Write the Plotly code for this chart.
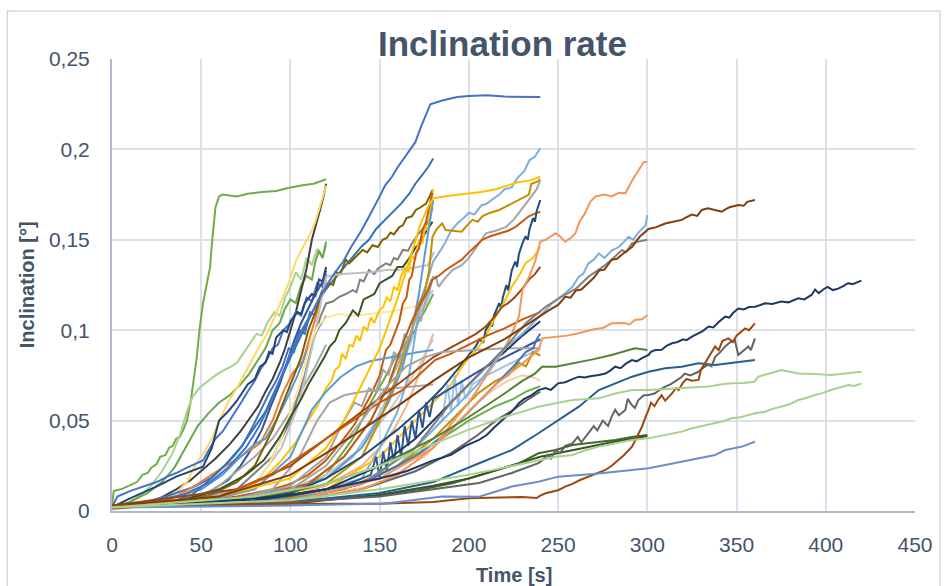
import plotly.graph_objects as go

# ---- measured inclination curves: each is a list of [time_s, inclination_deg] ----
# runs ending at 120 s
r120_a = [[0,.003],[1,.011],[5,.012],[10,.014],[14,.016],[17,.02],[20,.021],[22,.024],[25,.026],[27,.03],[30,.031],[32,.035],[34,.036],[36,.04],[38,.041],[40,.045],[42,.05],[44,.06],[46,.075],[47.5,.085],[49,.1],[51,.115],[53,.125],[55,.135],[56,.148],[57,.16],[58,.168],[60,.174],[62,.175],[66,.1745],[70,.174],[76,.1755],[84,.1765],[92,.177],[98,.1785],[106,.18],[113,.181],[120,.1835]]
r120_b = [[0,.003],[8,.004],[15,.008],[22,.014],[28,.022],[34,.032],[38,.042],[42,.055],[45,.063],[49,.068],[54,.072],[58,.075],[63,.078],[67,.08],[70,.082],[74,.088],[78,.094],[81,.098],[84,.097],[87,.104],[91,.11],[94,.108],[97,.118],[100,.124],[103,.132],[106,.128],[109,.14],[112,.136],[115,.145],[118,.14],[120,.147]]
r120_c = [[0,.002],[10,.005],[20,.01],[28,.016],[35,.024],[42,.036],[48,.047],[54,.054],[60,.06],[66,.064],[72,.07],[77,.076],[82,.084],[86,.09],[90,.1],[94,.104],[97,.112],[100,.117],[103,.115],[106,.125],[109,.13],[112,.128],[114,.138],[116,.144],[118,.14],[120,.149]]
r120_d = [[0,.002],[15,.004],[25,.006],[36,.012],[44,.017],[51,.023],[58,.029],[66,.037],[72,.044],[77,.051],[82,.058],[86,.066],[90,.073],[94,.082],[97,.09],[100,.1],[103,.11],[106,.122],[109,.134],[112,.15],[115,.16],[117,.168],[119,.176],[120,.181]]
r120_e = [[0,.002],[20,.004],[35,.009],[42,.016],[47,.026],[52,.033],[56,.04],[60,.05],[65,.06],[70,.068],[76,.079],[82,.09],[88,.1],[94,.114],[99,.126],[103,.138],[107,.146],[111,.153],[114,.16],[117,.17],[120,.18]]
r120_f = [[0,.002],[3,.008],[10,.011],[17,.0135],[25,.016],[31,.019],[36,.021],[42,.024],[47,.026],[51,.028],[55,.035],[58,.04],[62,.044],[66,.05],[70,.056],[73,.061],[76,.066],[80,.072],[83,.078],[87,.084],[90,.09],[93,.092],[96,.1],[100,.104],[103,.11],[106,.108],[109,.118],[112,.116],[115,.126],[118,.124],[120,.133]]
r120_g = [[0,.002],[8,.006],[17,.01],[26,.014],[36,.019],[44,.022],[51,.0245],[56,.035],[60,.05],[65,.055],[70,.061],[76,.07],[80,.073],[83,.08],[86,.082],[88,.088],[90,.087],[92,.096],[96,.1],[98,.099],[100,.105],[104,.11],[106,.109],[108,.115],[112,.12],[114,.119],[116,.128],[118,.127],[120,.135]]
r120_h = [[0,.002],[15,.004],[30,.008],[45,.013],[55,.018],[62,.024],[68,.03],[73,.036],[79,.047],[84,.057],[88,.065],[92,.072],[95.6,.08],[99,.09],[102,.088],[105,.1],[108,.098],[111,.11],[114,.108],[117,.12],[120,.126]]
r120_i = [[0,.002],[20,.003],[40,.006],[55,.011],[65,.017],[72,.025],[78,.034],[84,.045],[89,.058],[94,.07],[98,.082],[102,.094],[106,.104],[110,.112],[114,.12],[117,.125],[120,.131]]
r120_j = [[0,.001],[20,.003],[32,.006],[45,.013],[60,.0227],[72,.03],[83,.0375],[90,.05],[95.6,.065],[101,.076],[107,.083],[111,.097],[115,.11],[118,.12],[120,.128]]
r120_k = [[0,.002],[30,.006],[50,.012],[62,.02],[72,.03],[80,.037],[86,.04],[92,.05],[98,.062],[104,.075],[110,.09],[115,.1],[120,.108]]
r120_l = [[0,.002],[30,.004],[50,.008],[60,.014],[70,.022],[80,.03],[90,.04],[100,.055],[108,.07],[114,.08],[120,.092]]

# runs ending at 180 s
r180_a = [[0,.002],[30,.004],[45,.009],[55.5,.018],[64,.026],[72,.035],[79,.045],[86,.055],[91,.066],[96,.076],[101,.087],[106,.097],[111,.107],[116,.1175],[121,.124],[126,.13],[131,.136],[136,.142],[140,.1465],[144,.15],[148,.156],[153,.161],[158,.166],[162,.17],[166.6,.1755],[170,.181],[174,.186],[177,.19],[180,.195]]
r180_b = [[0,.002],[30,.004],[55,.009],[70,.016],[80,.025],[90,.045],[100,.07],[106,.085],[110,.1],[114,.11],[118,.122],[122,.126],[124,.125],[126,.132],[128,.131],[131,.139],[133,.137],[136,.14],[138,.142],[140.5,.1444],[143,.143],[146,.147],[149,.146],[151.6,.15],[154,.151],[156,.154],[158,.153],[161,.157],[163,.158],[165,.162],[168,.163],[170.3,.1665],[173,.168],[176,.17],[178,.174],[179.6,.1775]]
r180_c = [[0,.002],[40,.005],[70,.012],[90,.03],[100,.05],[108,.075],[113,.095],[117,.108],[120,.1148],[124,.116],[127.4,.1185],[131,.12],[135,.1222],[137,.121],[139,.128],[141,.127],[144,.1333],[147,.131],[149,.134],[153.5,.137],[156,.136],[158,.14],[160,.139],[163,.1444],[166,.144],[168,.148],[172,.1536],[175,.157],[177.7,.161],[179.6,.168]]
r180_d = [[0,.002],[50,.006],[80,.015],[95,.035],[105,.06],[112,.09],[116,.11],[119,.125],[120,.1296],[127,.131],[135,.1314],[145,.132],[153.5,.1333],[162,.1335],[172,.1351],[177,.136],[180.5,.1434]]
r180_e = [[0,.002],[40,.004],[60,.006],[72,.01],[80,.015],[88,.026],[95,.04],[100,.055],[105,.07],[109,.085],[112,.095],[116,.103],[120,.107],[127,.109],[135,.108],[145,.109],[153.5,.11],[160,.111],[168.4,.113],[174,.114],[179.6,.1148]]
r180_f = [[0,.002],[30,.003],[60,.012],[75,.02],[85,.028],[94,.041],[100,.052],[106,.062],[110,.07],[115,.078],[119,.085],[122,.091],[125,.094],[127.4,.1],[131,.104],[135,.111],[138,.108],[141,.117],[144,.1185],[147,.12],[150,.126],[153.5,.1278],[157,.13],[160,.135],[163,.135],[166,.139],[170.3,.146],[173,.148],[175,.153],[177.7,.157],[179.6,.16]]
r180_g = [[0,.002],[40,.004],[70,.01],[85,.018],[95,.028],[103,.038],[110,.05],[115,.058],[120,.068],[123,.072],[125,.078],[127.4,.08],[129,.087],[131,.084],[133,.092],[135,.091],[137,.097],[139,.094],[141,.102],[143,.1],[145,.107],[147,.104],[149.8,.111],[152,.113],[154,.118],[156,.116],[158,.124],[160,.122],[162,.13],[164.7,.135],[166,.132],[168,.141],[170,.139],[172,.15],[174,.148],[175.5,.158],[177,.155],[178,.165],[179,.172],[180,.178]]
r180_h = [[0,.002],[40,.004],[70,.008],[90,.012],[100,.015],[110,.02],[120,.028],[130,.04],[136,.048],[140,.055],[145,.064],[150,.075],[153.5,.089],[156,.092],[159,.1],[161,.105],[163,.1148],[165,.118],[166.6,.1278],[168,.13],[170.3,.1425],[172,.145],[174,.1554],[176,.16],[177.7,.168],[179.5,.176]]
r180_i = [[0,.002],[60,.005],[100,.01],[120,.018],[135,.03],[145,.045],[152,.058],[158,.07],[163,.082],[167,.092],[170,.1],[173,.11],[176,.115],[178,.12],[180,.122]]
r180_j = [[0,.002],[60,.004],[100,.01],[120,.02],[135,.04],[145,.06],[152,.072],[159,.0853],[163,.09],[166.6,.0964],[170,.1],[172,.1056],[175,.11],[177.7,.115],[180,.12]]
r180_k = [[0,.002],[60,.004],[100,.008],[120,.014],[140,.025],[150,.035],[158,.045],[165,.058],[170,.07],[174,.082],[177,.09],[180,.098]]
r180_l = [[0,.002],[70,.006],[100,.014],[120,.03],[130,.05],[136,.06],[140,.058],[144,.068],[148,.066],[152,.078],[155,.075],[158,.088],[161,.084],[164,.098],[167,.094],[170,.108],[173,.105],[176,.118],[178,.122],[180,.13]]
r180_m = [[0,.002],[80,.006],[120,.02],[140,.035],[155,.055],[165,.07],[172,.08],[176,.088],[180,.095]]
r180_n = [[0,.002],[80,.006],[120,.018],[140,.035],[155,.06],[163,.08],[168,.1],[172,.12],[175,.14],[177.5,.155],[179,.165],[180,.172]]
r180_o = [[0,.002],[50,.005],[80,.012],[100,.03],[112,.056],[120,.066],[128,.074],[136.8,.08],[145,.083],[155,.085],[165,.087],[172,.088],[180,.089]]
r180_p = [[0,.002],[60,.004],[90,.012],[105,.03],[115,.05],[122,.06],[130,.064],[140,.066],[150,.067],[160,.068],[170,.069],[180,.07]]

# runs ending at 240 s
r240_a = [[0,.003],[20,.005],[40,.009],[55,.016],[65,.024],[75,.035],[82,.046],[88,.058],[93,.07],[98,.082],[103,.094],[108,.103],[112.8,.111],[117,.119],[121,.126],[125,.132],[129.6,.138],[134,.146],[139.7,.155],[143,.161],[146.4,.167],[150,.174],[153,.18],[157,.185],[160,.19],[165,.197],[170,.204],[173,.212],[176,.219],[178.4,.225],[185,.227],[193.5,.229],[200,.2295],[210,.23],[220,.2292],[230,.229],[240,.229]]
r240_b = [[0,.002],[80,.005],[120,.012],[140,.018],[150,.035],[160,.055],[166.6,.076],[170,.097],[173,.117],[176,.125],[180,.138],[184,.144],[186.8,.1486],[190,.155],[193.5,.159],[197,.162],[200,.165],[203,.164],[207,.169],[210,.17],[214,.173],[217,.175],[220,.178],[224,.179],[227,.184],[231,.188],[234,.194],[237,.196],[240,.2007]]
r240_c = [[0,.002],[60,.008],[100,.018],[120,.035],[130,.05],[140,.07],[150,.09],[160,.1175],[166.6,.138],[173,.159],[177,.168],[180,.173],[190,.1745],[200,.1755],[207,.1765],[215,.178],[227,.1817],[235,.183],[240,.185]]
r240_d = [[0,.002],[80,.005],[120,.015],[140,.03],[150,.05],[158,.07],[163,.085],[168,.1],[172,.115],[175,.12],[177.7,.133],[179.6,.1517],[182,.156],[185,.159],[187,.1554],[191,.155],[196,.1545],[199,.158],[202,.161],[205,.16],[207.5,.163],[212,.165],[217,.1665],[222,.169],[228,.172],[233.6,.175],[235,.181],[238,.182],[240,.1835]]
r240_e = [[0,.002],[70,.006],[110,.015],[130,.03],[145,.05],[155,.07],[162,.085],[168,.1],[172,.11],[176,.12],[179,.128],[181.5,.1296],[183,.124],[186,.128],[190.7,.1333],[196,.136],[200,.14],[205,.147],[209.5,.1536],[215,.155],[220.6,.157],[225,.161],[228,.1646],[232,.17],[235,.174],[238,.178],[240,.183]]
r240_f = [[0,.002],[70,.006],[110,.015],[130,.03],[145,.05],[155,.07],[162,.09],[168,.105],[173,.115],[177,.122],[179.6,.128],[183,.13],[187,.1333],[191,.136],[196,.139],[201,.144],[207.5,.15],[212,.152],[217,.1536],[222,.155],[226,.157],[230,.16],[233.6,.163],[237,.1645],[240,.1655]]
r240_g = [[0,.002],[60,.006],[100,.01],[120,.018],[140,.03],[160,.045],[175,.058],[185,.068],[195,.08],[200,.086],[203.8,.091],[206,.095],[208,.093],[209.4,.1],[212,.104],[213,.102],[214,.108],[217,.115],[218,.112],[219,.118],[221,.125],[222,.122],[224,.133],[226,.138],[227,.135],[228,.142],[230,.148],[231.8,.152],[233,.15],[234,.156],[236,.162],[237,.16],[238,.166],[240,.172]]
r240_h = [[0,.002],[70,.004],[120,.012],[150,.03],[170,.05],[180,.06],[190,.07],[195,.078],[200,.085],[205,.09],[209.4,.0965],[213,.104],[217,.111],[220,.116],[224,.124],[228,.13],[231.8,.137],[236,.14],[240,.146]]
r240_i = [[0,.003],[70,.012],[100,.025],[120,.04],[140,.055],[160,.07],[170,.078],[180,.085],[189,.09],[198,.0946],[204,.098],[209.4,.102],[214,.107],[218.7,.113],[222,.115],[226,.1185],[230,.123],[233.6,.128],[237,.131],[240,.135]]
r240_j = [[0,.002],[100,.006],[140,.015],[160,.025],[175,.04],[185,.05],[188,.07],[190,.055],[192,.075],[194,.058],[196,.072],[198,.062],[202,.07],[210,.075],[220,.08],[230,.085],[240,.09]]
r240_k = [[0,.002],[60,.004],[100,.008],[130,.014],[145,.02],[148,.03],[150,.018],[152,.033],[154,.022],[156,.038],[158,.027],[160,.042],[162,.03],[164,.047],[166,.036],[168,.05],[170,.04],[172,.056],[174,.046],[176,.06],[178,.052],[180,.062],[190,.068],[200,.074],[210,.08],[220,.085],[230,.09],[240,.095]]
r240_l = [[0,.002],[60,.008],[90,.02],[116,.0375],[130,.047],[150,.06],[163,.067],[172,.075],[181,.0835],[190,.087],[200,.092],[210,.097],[220,.101],[230,.106],[240,.11]]
r240_m = [[0,.002],[60,.005],[100,.012],[120,.025],[140,.05],[155,.07],[165,.08],[175,.085],[185,.088],[200,.089],[220,.09],[240,.09]]
r240_n = [[0,.002],[80,.004],[130,.012],[160,.025],[180,.04],[195,.055],[205,.065],[215,.072],[222,.075],[228,.082],[232,.08],[236,.088],[240,.086]]
r240_o = [[0,.002],[100,.005],[150,.015],[175,.03],[195,.05],[205,.06],[215,.068],[222,.072],[230,.075],[236,.074],[240,.072]]
r240_p = [[0,.002],[100,.006],[140,.015],[160,.025],[180,.037],[200,.05],[215,.058],[225,.062],[232,.066],[240,.069]]
r240_q = [[0,.002],[100,.005],[140,.012],[170,.022],[190,.032],[205,.042],[215,.05],[225,.056],[232,.061],[240,.066]]
r240_r = [[0,.002],[100,.006],[140,.015],[170,.03],[190,.045],[205,.06],[215,.07],[225,.08],[232,.088],[236,.09],[238,.095],[240,.098]]
r240_s = [[0,.002],[80,.006],[120,.012],[150,.025],[170,.04],[185,.055],[200,.07],[210,.08],[220,.088],[230,.097],[240,.105]]

# runs ending at 300 s
r300_a = [[0,.002],[100,.005],[140,.012],[160,.02],[180,.035],[190,.048],[200,.06],[210,.075],[220,.09],[224,.098],[228,.1075],[230,.122],[234,.13],[237.4,.139],[240,.149],[243,.15],[248.6,.1536],[251,.152],[254,.149],[257,.151],[259.7,.1536],[262,.16],[265,.1646],[268,.171],[271,.174],[276,.175],[280,.174],[284,.176],[287.7,.1757],[291,.182],[295,.1886],[298,.193],[300,.193]]
r300_b = [[0,.002],[100,.006],[140,.015],[170,.035],[190,.055],[205,.07],[220,.09],[230,.098],[241,.109],[246.7,.115],[254,.1204],[258,.124],[261.6,.1296],[264,.131],[267,.137],[270,.139],[272.8,.1425],[276,.14],[280,.144],[284,.146],[287,.149],[289.5,.1517],[292,.15],[295,.154],[298,.157],[299,.158],[300,.1637]]
r300_c = [[0,.002],[100,.005],[140,.015],[170,.035],[190,.06],[205,.075],[220,.09],[232,.104],[243,.113],[252,.1185],[260,.123],[267,.1296],[275,.135],[280,.139],[285.8,.1444],[288,.143],[291.4,.148],[295,.149],[300,.15]]
r300_d = [[0,.002],[100,.005],[150,.018],[180,.035],[200,.055],[215,.07],[228,.08],[235,.086],[239,.089],[241,.0955],[248.6,.0964],[255,.097],[261.6,.0983],[270,.1005],[275,.1012],[280,.1038],[287,.104],[290,.1032],[293,.1056],[297,.106],[300,.1084]]
r300_e = [[0,.002],[80,.007],[120,.015],[150,.025],[180,.04],[200,.052],[220,.065],[230,.072],[237,.076],[241,.0798],[248.6,.0798],[255,.081],[261.6,.0826],[270,.084],[280,.0863],[288,.0885],[293,.09],[297,.0895],[300,.089]]
r300_f = [[0,.002],[100,.005],[153.5,.0088],[172,.0116],[190.8,.0153],[209.4,.0208],[228,.0263],[239,.0319],[248.6,.0337],[258,.0365],[267,.0374],[282,.0393],[291.4,.041],[300,.042]]
r300_g = [[0,.002],[100,.004],[150,.009],[180,.014],[200,.018],[220,.024],[240,.03],[260,.034],[280,.038],[300,.0415]]

# runs ending at 360 s
r360_a = [[0,.003],[60,.008],[100,.02],[120,.032],[140,.045],[160,.058],[180,.072],[200,.085],[220,.095],[239,.1075],[244.8,.111],[250,.114],[254,.1185],[257,.118],[260,.122],[263,.1225],[267,.126],[270,.129],[273,.133],[276,.1335],[280,.139],[283,.1395],[286,.142],[291.4,.146],[294,.1495],[296,.152],[300.7,.156],[305,.157],[310,.159],[315,.16],[319.3,.161],[322,.1625],[325,.164],[328,.1632],[330.5,.1665],[334,.1674],[338,.1665],[341.7,.1655],[344,.167],[346,.168],[351,.1692],[354,.1688],[356,.171],[360.3,.172]]
r360_b = [[0,.002],[100,.005],[150,.01],[180,.016],[205.7,.0264],[224,.0337],[239,.043],[250,.0503],[261.6,.0577],[272.8,.0669],[282,.0706],[291.4,.0743],[300.7,.077],[310,.0789],[319.3,.0798],[328.7,.0817],[338,.0808],[351,.0826],[360.3,.0835]]
r360_c = [[0,.002],[100,.005],[150,.008],[180,.012],[205.7,.0155],[224,.021],[239,.0265],[241,.028],[244,.031],[246,.029],[248.6,.0337],[251,.032],[254,.036],[258,.0374],[261,.041],[263,.038],[267,.043],[270,.047],[272,.0445],[275,.05],[278,.047],[280,.0522],[282,.056],[284,.053],[287.7,.0559],[289,.062],[291,.059],[293,.057],[295,.0614],[298,.064],[300.7,.0642],[304,.065],[307,.067],[310,.0688],[313,.07],[316,.072],[319,.074],[321,.076],[324,.075],[328.7,.077],[331,.079],[334,.081],[336,.08],[338,.0853],[341,.088],[343.6,.091],[346,.093],[349,.0946],[351,.0863],[353,.088],[356.6,.091],[358,.089],[360.3,.0955]]
r360_d = [[0,.003],[100,.004],[150,.004],[180,.005],[200,.007],[230,.0078],[238,.0072],[240,.0085],[243,.0098],[247,.011],[250,.0115],[254,.0135],[258,.015],[262,.017],[267,.019],[271,.0205],[276.5,.0227],[280,.025],[284,.0282],[287,.031],[291.4,.0356],[294,.041],[297,.0466],[299,.052],[300.7,.0559],[302,.06],[304,.058],[306,.0614],[308,.064],[310,.061],[313.8,.065],[316,.068],[317.5,.0669],[320,.071],[322,.073],[325,.072],[328.7,.0725],[330,.078],[332.4,.0817],[335,.086],[338,.091],[340,.089],[342,.094],[345.4,.0955],[348,.0935],[350,.097],[352,.0985],[354.8,.101],[357,.1],[360.3,.1038]]
r360_e = [[0,.002],[100,.003],[153.5,.0042],[185,.008],[205.7,.0079],[224,.0135],[239,.0162],[250,.019],[272.8,.0208],[282,.0217],[291.4,.0227],[300.7,.0236],[310,.0254],[319.3,.0273],[328.7,.0291],[338,.031],[343.6,.0337],[353,.0356],[360.3,.0383]]

# runs ending at 420 s
r420_a = [[0,.002],[40,.004],[80,.007],[100,.009],[120,.012],[135,.015],[150,.018],[165,.022],[180,.028],[190,.031],[198,.036],[205.7,.0393],[210,.042],[214,.046],[217,.0486],[220,.051],[224,.055],[228,.0596],[231,.062],[235,.064],[239,.0669],[243,.068],[246,.067],[250,.0706],[254,.0712],[257,.0725],[261.6,.0743],[265,.0738],[268,.0745],[272.8,.0752],[276.5,.076],[279,.0775],[282,.0798],[285,.079],[288,.0815],[291.4,.0835],[294,.0828],[297,.0846],[300.7,.0863],[302,.088],[304.5,.089],[308,.0892],[311,.0915],[313.8,.0928],[317,.0935],[320,.095],[322,.0945],[325,.0964],[328,.098],[331,.0995],[334.3,.102],[337,.1015],[340,.1045],[343.6,.1075],[346,.107],[348,.1095],[351,.112],[354,.1115],[357,.1128],[360.3,.113],[363,.1138],[366,.1149],[370,.1145],[375,.1158],[379,.1154],[384.6,.1176],[388,.117],[392,.1195],[394,.1225],[396,.1205],[399,.1228],[401,.124],[404,.1222],[407,.123],[410,.1245],[412.5,.126],[415,.1255],[418,.1268],[420,.1274]]
r420_b = [[0,.002],[80,.008],[120,.015],[150,.025],[180,.037],[200,.045],[220,.052],[239,.0577],[248,.0595],[258,.0614],[265,.0618],[272.8,.0623],[282,.065],[291.4,.0669],[300.7,.0669],[310,.0675],[319.3,.0679],[327,.0683],[334.3,.0688],[340,.0698],[347,.0706],[354,.0708],[360,.0715],[362.2,.0743],[366,.0752],[370,.0765],[375,.078],[380,.0768],[384.6,.076],[394,.0758],[403,.0752],[412,.0762],[420,.077]]
r420_c = [[0,.002],[100,.006],[150,.012],[180,.017],[200,.02],[220,.024],[240,.028],[248.6,.03],[258,.031],[265,.0335],[272.8,.0356],[282,.0374],[291.4,.0393],[300.7,.0402],[305,.041],[310,.042],[315,.0432],[319.3,.0439],[324,.0455],[328.7,.0466],[333,.0472],[338,.0485],[343,.0498],[347,.0513],[352,.0518],[356.6,.0531],[361,.0542],[366,.0549],[370,.0565],[375,.0577],[380,.0592],[384.6,.0614],[389,.0625],[394,.0642],[398,.0652],[403,.0669],[408,.0682],[412.5,.0697],[416,.0692],[420,.0706]]

SERIES = [
    r120_a, r120_b, r120_c, r120_d, r120_e, r120_f, r120_g, r120_h, r120_i, r120_j, r120_k, r120_l,
    r180_a, r180_b, r180_c, r180_d, r180_e, r180_f, r180_g, r180_h, r180_i, r180_j, r180_k, r180_l,
    r180_m, r180_n, r180_o, r180_p,
    r240_a, r240_b, r240_c, r240_d, r240_e, r240_f, r240_g, r240_h, r240_i, r240_j, r240_k, r240_l,
    r240_m, r240_n, r240_o, r240_p, r240_q, r240_r, r240_s,
    r300_a, r300_b, r300_c, r300_d, r300_e, r300_f, r300_g,
    r360_a, r360_b, r360_c, r360_d, r360_e,
    r420_a, r420_b, r420_c,
]

LINE_COLORS = [
    "#70AD47", "#A9D18E", "#6AA84F", "#404040", "#FFD966", "#4472C4", "#264478", "#4472C4", "#2F5597", "#ED7D31", "#5B9BD5", "#A5A5A5",
    "#2E75B6", "#7F6000", "#7F7F7F", "#BFBFBF", "#FFE699", "#375623", "#FFC000", "#C55A11", "#9DC3E6", "#70AD47", "#F4B183", "#A5A5A5",
    "#C9C9C9", "#5B9BD5", "#5B9BD5", "#A5A5A5",
    "#4472C4", "#7CAFDD", "#FFC000", "#BF9000", "#A5A5A5", "#C55A11", "#1F4E79", "#FFC000", "#9E480E", "#9DC3E6", "#2F5597", "#C55A11",
    "#A5A5A5", "#BF9000", "#F8CBAD", "#70AD47", "#636363", "#4472C4", "#203864",
    "#F1975A", "#7CAFDD", "#7F7F7F", "#F1975A", "#548235", "#43682B", "#375623",
    "#843C0C", "#255E91", "#636363", "#9E480E", "#698ED0",
    "#1F3864", "#A9D18E", "#A9D18E",
]

TEXT = "#44546A"
FONT = "Liberation Sans"

fig = go.Figure()
for pts, col in zip(SERIES, LINE_COLORS):
    fig.add_trace(go.Scatter(
        x=[p[0] for p in pts], y=[p[1] for p in pts],
        mode="lines", line=dict(color=col, width=2),
        hoverinfo="skip", showlegend=False,
    ))

fig.update_layout(
    width=945, height=586,
    margin=dict(l=112, r=28, t=59, b=75),
    paper_bgcolor="white", plot_bgcolor="white",
    separators=",.",
    font=dict(family=FONT, color=TEXT),
    title=dict(text="<b>Inclination rate</b>", x=0.4863, xref="paper", xanchor="center",
               y=1 - 44 / 586, yref="container", yanchor="middle",
               font=dict(size=35, color=TEXT, family=FONT)),
    xaxis=dict(range=[0, 450], dtick=50, tick0=0, showgrid=True, gridcolor="#DCE1E9", gridwidth=1.5,
               showline=True, linecolor="#ADB9CA", linewidth=2, zeroline=False, ticks="",
               tickfont=dict(size=21, color=TEXT), ticklabelstandoff=14, fixedrange=True),
    yaxis=dict(range=[0, 0.25], dtick=0.05, tick0=0, showgrid=True, gridcolor="#DCE1E9", gridwidth=1.5,
               showline=True, linecolor="#ADB9CA", linewidth=2, zeroline=False, ticks="",
               tickfont=dict(size=21, color=TEXT), ticklabelstandoff=16, fixedrange=True),
    annotations=[
        dict(text="<b>Time [s]</b>", xref="paper", yref="paper", x=0.5, y=-0.1405,
             xanchor="center", yanchor="middle", showarrow=False,
             font=dict(size=20, color=TEXT, family=FONT)),
        dict(text="<b>Inclination [°]</b>", xref="paper", yref="paper", x=-0.1056, y=0.5,
             xanchor="center", yanchor="middle", textangle=-90, showarrow=False,
             font=dict(size=20, color=TEXT, family=FONT)),
    ],
    shapes=[dict(type="rect", xref="paper", yref="paper", x0=-0.1304, x1=1.031, y0=-0.25, y1=1.106,
                 line=dict(color="#D9D9D9", width=1.5), fillcolor="rgba(0,0,0,0)", layer="below")],
)

fig.write_html("out.html")
